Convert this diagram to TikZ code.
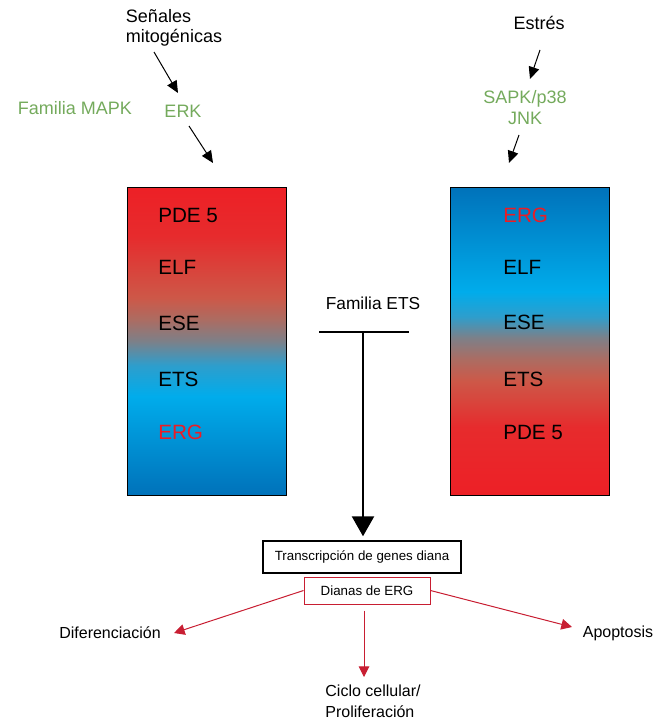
\documentclass[tikz,border=0pt]{standalone}
\usepackage{fontspec}
\setmainfont{Liberation Sans}
\usetikzlibrary{arrows.meta,positioning}

\definecolor{mapkgreen}{RGB}{116,170,92}
\definecolor{ergred}{RGB}{236,28,36}
\definecolor{linkred}{RGB}{200,30,50}
\definecolor{gradred}{RGB}{237,32,38}
\definecolor{gradbrick}{RGB}{205,88,72}
\definecolor{gradrose}{RGB}{172,108,98}
\definecolor{gradgray}{RGB}{125,128,136}
\definecolor{gradteal}{RGB}{45,158,205}
\definecolor{gradcyan}{RGB}{0,172,235}
\definecolor{gradblue}{RGB}{0,114,186}

% shadings: the part from 25bp to 75bp covers the box
\pgfdeclareverticalshading{mitograd}{100bp}{color(0bp)=(gradblue); color(25bp)=(gradblue);
  color(41bp)=(gradcyan); color(46bp)=(gradteal); color(50bp)=(gradgray);
  color(53.5bp)=(gradrose); color(57bp)=(gradbrick); color(67bp)=(gradred!80!gradbrick);
  color(75bp)=(gradred); color(100bp)=(gradred)}
\pgfdeclareverticalshading{stressgrad}{100bp}{color(0bp)=(gradred); color(25bp)=(gradred);
  color(36bp)=(gradred!80!gradbrick); color(43.5bp)=(gradbrick); color(47bp)=(gradrose);
  color(50.5bp)=(gradgray); color(54bp)=(gradteal); color(58bp)=(gradcyan);
  color(75bp)=(gradblue); color(100bp)=(gradblue)}

\tikzset{
  txt/.style={inner sep=0pt, font=\fontsize{13.5}{15.5}\selectfont},
  gtxt/.style={txt, text=mapkgreen},
  famtxt/.style={inner sep=0pt, font=\fontsize{13}{15}\selectfont},
  boxtxt/.style={inner sep=0pt, anchor=west, font=\fontsize{15.5}{18}\selectfont},
  outtxt/.style={inner sep=0pt, font=\fontsize{12}{15.75}\selectfont},
  etsbox/.style={draw=black, line width=0.75pt, minimum width=119.25pt,
    minimum height=231pt, inner sep=0pt},
  genebox/.style={draw=black, line width=1.1pt, minimum width=148.5pt,
    minimum height=24pt, inner sep=0pt, font=\fontsize{10}{12}\selectfont},
  ergbox/.style={draw=linkred, line width=0.75pt, minimum width=94.5pt,
    minimum height=20.25pt, inner sep=0pt, font=\fontsize{10}{12}\selectfont},
  sig/.style={line width=0.75pt, -{Triangle[length=9pt,width=8pt]}},
  bigarr/.style={line width=1.9pt, -{Triangle[length=15pt,width=16.5pt]}},
  redarr/.style={draw=linkred, line width=0.75pt,
    -{Triangle[length=8pt,width=8pt]}, linkred}
}

\begin{document}
\begin{tikzpicture}[x=0.75pt, y=-0.75pt]
\useasboundingbox (0,0) rectangle (659,721);

% upstream signals
\node[txt, align=left] (senales) at (174,28) {Señales\\mitogénicas};
\node[gtxt] (mapk) at (75,108) {Familia MAPK};
\node[gtxt] (erk) at (183,111) {ERK};
\node[txt] (estres) at (539,23) {Estrés};
\node[gtxt, align=center] (sapk) at (525,107.5) {SAPK/p38\\JNK};

\coordinate (mitoout) at (154,52);
\coordinate (erkin) at (178,93);
\coordinate (erkout) at (189,126);
\coordinate (mitobox) at (213,163);
\coordinate (estresout) at (540,50);
\coordinate (sapkin) at (530,79);
\coordinate (sapkout) at (519,135);
\coordinate (stressbox) at (509,163);

\draw[sig] (mitoout) -- (erkin);
\draw[sig] (erkout) -- (mitobox);
\draw[sig] (estresout) -- (sapkin);
\draw[sig] (sapkout) -- (stressbox);

% ETS boxes
\node[etsbox, shading=mitograd] (mitocol) at (206.5,341) {};
\node[etsbox, shading=stressgrad] (stresscol) at (530,341) {};

\node[boxtxt] (lpde) at (158,215) {PDE 5};
\node[boxtxt] (lelf) at (158,267) {ELF};
\node[boxtxt] (lese) at (158,323) {ESE};
\node[boxtxt] (lets) at (158,379) {ETS};
\node[boxtxt, text=ergred] (lerg) at (158,432) {ERG};

\node[boxtxt, text=ergred] (rerg) at (503,215) {ERG};
\node[boxtxt] (relf) at (503,267) {ELF};
\node[boxtxt] (rese) at (503,322) {ESE};
\node[boxtxt] (rets) at (503,379) {ETS};
\node[boxtxt] (rpde) at (503,432) {PDE 5};

% ETS family and targets
\node[famtxt] (famets) at (373,303) {Familia ETS};
\coordinate (tleft) at (319,332);
\coordinate (tright) at (409,332);
\coordinate (tmid) at (363,332);
\draw[line width=1.5pt] (tleft) -- (tright);

\node[genebox] (genes) at (362,557) {Transcripción de genes diana};
\node[ergbox] (dianas) at (367,590.5) {Dianas de ERG};
\draw[bigarr, shorten >=3pt] (tmid) -- (genes.north -| tmid);

\node[outtxt] (difer) at (110,633) {Diferenciación};
\node[outtxt] (apopt) at (618,633) {Apoptosis};
\node[outtxt, align=left] (ciclo) at (373,701.5) {Ciclo cellular/\\Proliferación};

\coordinate (diferin) at (174,633);
\coordinate (apoptin) at (572,627);
\coordinate (cicloin) at (364,677);

\draw[redarr] (dianas.west) -- (diferin);
\draw[redarr] (dianas.east) -- (apoptin);
\draw[redarr, shorten <=4.5pt] (dianas.south -| cicloin) -- (cicloin);
\end{tikzpicture}
\end{document}
